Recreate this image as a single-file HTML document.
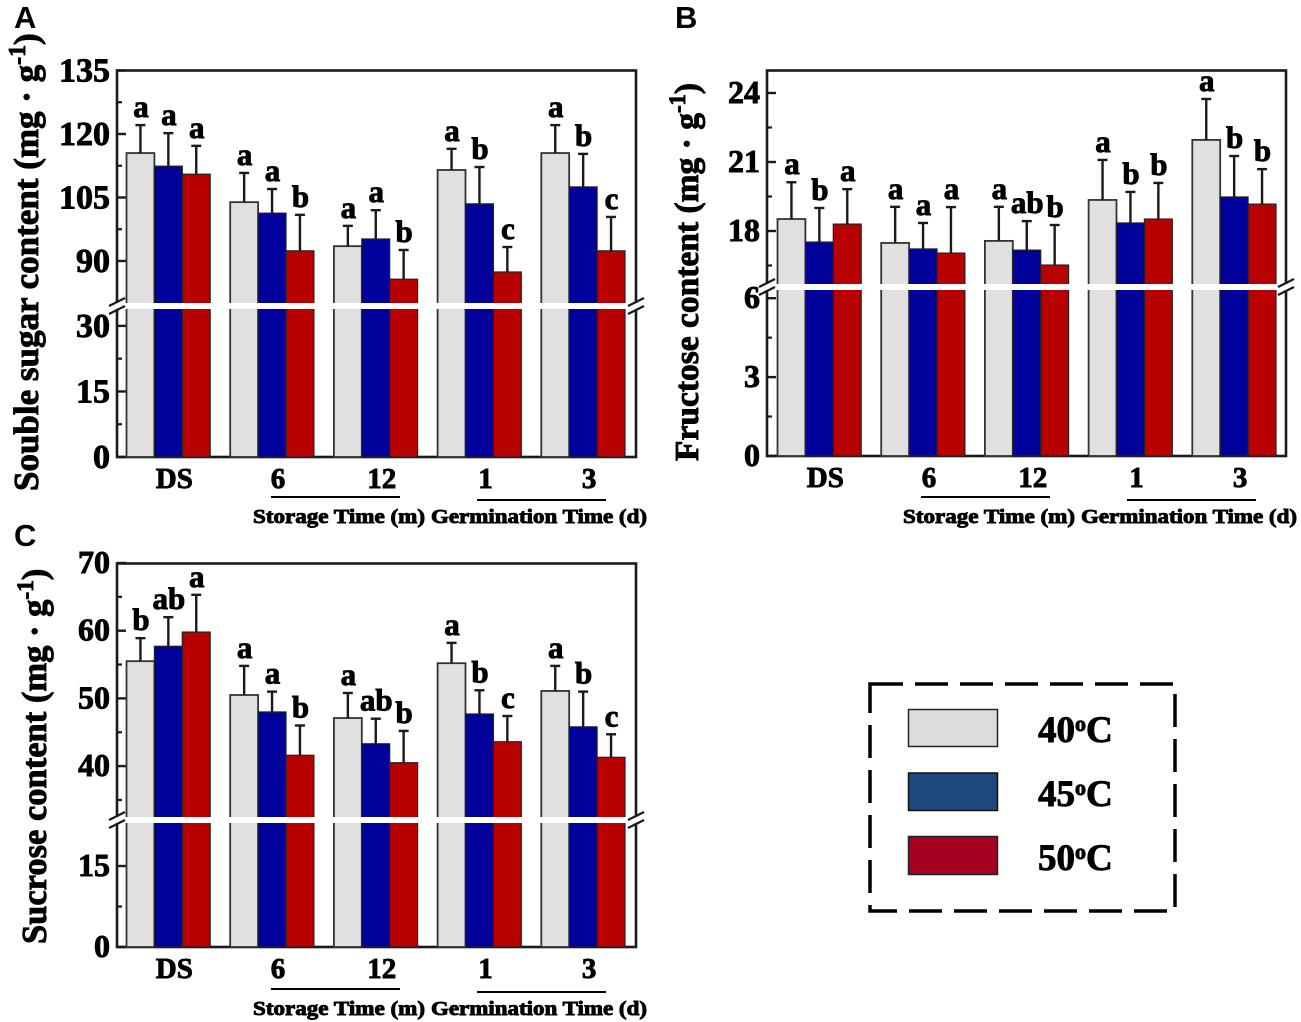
<!DOCTYPE html>
<html lang="en">
<head>
<meta charset="utf-8">
<title>Sugar content by temperature</title>
<style>
html,body{margin:0;padding:0;background:#fff;width:1301px;height:1022px;overflow:hidden}
svg{display:block;filter:blur(.35px)}
text{font-family:"Liberation Serif",serif;font-weight:bold;fill:#000;stroke:#000;stroke-width:.9px}
.panel-letter{font-family:"Liberation Sans",sans-serif;stroke:none}
</style>
</head>
<body>
<svg id="chart" xmlns="http://www.w3.org/2000/svg" width="1301" height="1022" viewBox="0 0 1301 1022">
<g>
<rect x="870" y="684" width="305" height="227" fill="none" stroke="#000" stroke-width="3.5" stroke-dasharray="33 12"/>
<rect x="908.5" y="709.5" width="89" height="37" fill="#dcdcdc" stroke="#222" stroke-width="1.5"/>
<text x="1038" y="742" font-size="37" stroke-width="1.2">40<tspan font-size="22" dy="-11">o</tspan><tspan dy="11">C</tspan></text>
<rect x="908.5" y="773" width="89" height="37.5" fill="#1f497d" stroke="#111" stroke-width="1.5"/>
<text x="1038" y="806" font-size="37" stroke-width="1.2">45<tspan font-size="22" dy="-11">o</tspan><tspan dy="11">C</tspan></text>
<rect x="908.5" y="836.5" width="89" height="38" fill="#a50021" stroke="#222" stroke-width="1.5"/>
<text x="1038" y="870" font-size="37" stroke-width="1.2">50<tspan font-size="22" dy="-11">o</tspan><tspan dy="11">C</tspan></text>
</g>
</svg>
<script>
// ---------- Shared categories ----------
const categories = ['DS', '6', '12', '1', '3'];
const seriesNames = ['40C', '45C', '50C'];

// ---------- Panel A: soluble sugar ----------
const sugar40 = [115.5, 103.9, 93.5, 111.5, 115.5];
const sugar45 = [112.4, 101.3, 95.2, 103.5, 107.5];
const sugar50 = [110.5, 92.4, 85.7, 87.4, 92.4];
const sugarErr40 = [6.6, 6.9, 4.8, 5.0, 6.6];
const sugarErr45 = [7.8, 5.7, 6.8, 8.7, 7.8];
const sugarErr50 = [6.7, 8.5, 6.9, 5.9, 8.0];
const sugarSig40 = ['a', 'a', 'a', 'a', 'a'];
const sugarSig45 = ['a', 'a', 'a', 'b', 'b'];
const sugarSig50 = ['a', 'b', 'b', 'c', 'c'];
const sugarTicksUpper = [135, 120, 105, 90];
const sugarTicksLower = [30, 15, 0];
const sugarMinorTicks = [127.5, 112.5, 97.5, 22.5, 7.5];

// ---------- Panel B: fructose ----------
const fructose40 = [18.52, 17.48, 17.57, 19.35, 21.96];
const fructose45 = [17.52, 17.22, 17.17, 18.35, 19.48];
const fructose50 = [18.30, 17.04, 16.52, 18.52, 19.17];
const fructoseErr40 = [1.6, 1.57, 1.48, 1.74, 1.78];
const fructoseErr45 = [1.48, 1.13, 1.26, 1.35, 1.78];
const fructoseErr50 = [1.52, 2.0, 1.74, 1.57, 1.52];
const fructoseSig40 = ['a', 'a', 'a', 'a', 'a'];
const fructoseSig45 = ['b', 'a', 'ab', 'b', 'b'];
const fructoseSig50 = ['a', 'a', 'b', 'b', 'b'];
const fructoseTicksUpper = [24, 21, 18];
const fructoseTicksLower = [6, 3, 0];
const fructoseMinorTicks = [22.5, 19.5, 16.5, 4.5, 1.5];

// ---------- Panel C: sucrose ----------
const sucrose40 = [55.5, 50.5, 47.1, 55.2, 51.1];
const sucrose45 = [57.7, 48.0, 43.3, 47.7, 45.8];
const sucrose50 = [59.8, 41.6, 40.5, 43.6, 41.3];
const sucroseErr40 = [3.4, 4.3, 3.7, 3.0, 3.7];
const sucroseErr45 = [4.3, 3.0, 3.7, 3.5, 5.2];
const sucroseErr50 = [5.5, 4.4, 4.7, 3.8, 3.4];
const sucroseSig40 = ['b', 'a', 'a', 'a', 'a'];
const sucroseSig45 = ['ab', 'a', 'ab', 'b', 'b'];
const sucroseSig50 = ['a', 'b', 'b', 'c', 'c'];
const sucroseTicksUpper = [70, 60, 50, 40];
const sucroseTicksLower = [15, 0];
const sucroseMinorTicks = [65, 55, 45, 35, 7.5];

// ---------- Layout (separate from data) ----------
const fills = ['#e0e0e0', '#00009b', '#b90000'];
const INK = '#1a1a1a';
const svg = document.getElementById('chart');

function node(tag, parent, attrs) {
  const el = document.createElementNS('http://www.w3.org/2000/svg', tag);
  for (const k in attrs) el.setAttribute(k, attrs[k]);
  parent.appendChild(el);
  return el;
}

function drawPanel(p) {
  const g = node('g', svg, {});
  
  

  // Broken-axis scale: upper and lower segments
  const yAxis = function (v) {
    return v >= p.breakValue
      ? p.upperY0 - (v - p.upperV0) * p.upperK
      : p.bottom - v * p.lowerK;
  };
  const xGroup = function (i) { return p.firstBarX + i * p.groupStep; };
  const xBar = function (i, s) { return xGroup(i) + s * p.barW; };

  const letter = node('text', g, { x: p.letterX, y: p.letterY, 'font-size': 31, class: 'panel-letter' });
  letter.textContent = p.id.toUpperCase();
  
  

  // Axis title
  const title = node('text', g, {
    x: p.titleX, y: p.titleY, 'font-size': p.titleSize,
    transform: 'rotate(-90 ' + p.titleX + ' ' + p.titleY + ')'
  });
  
  
  node('tspan', title, {}).textContent = p.title + ' (mg · g';
  node('tspan', title, { 'font-size': p.titleSize * 0.68, dy: -13 }).textContent = '-1';
  node('tspan', title, { dy: 13 }).textContent = ')';

  // Frame
  const frame = node('rect', g, {
    x: p.left, y: p.top, width: p.right - p.left, height: p.bottom - p.top,
    fill: 'none', stroke: INK, 'stroke-width': 2.6
  });
  
  

  // Major ticks and labels
  p.ticks.forEach(function (t) {
    const tick = node('line', g, { x1: p.left, x2: p.left + 9, y1: yAxis(t), y2: yAxis(t), stroke: INK, 'stroke-width': 2.4 });
    
    
    const lab = node('text', g, { x: p.left - 7, y: yAxis(t) + p.tickBaseline, 'font-size': p.tickSize, 'text-anchor': 'end' });
    lab.textContent = t;
    
    
  });
  p.minor.forEach(function (t) {
    const tick = node('line', g, { x1: p.left, x2: p.left + 5, y1: yAxis(t), y2: yAxis(t), stroke: INK, 'stroke-width': 2.2 });
    
    
  });

  // Bars
  p.values.forEach(function (series, s) {
    series.forEach(function (v, i) {
      const x = xBar(i, s);
      const top = yAxis(v);
      const bar = node('rect', g, {
        x: x, y: top, width: p.barW, height: p.bottom - top,
        fill: fills[s], stroke: s === 0 ? '#333' : '#222', 'stroke-width': s === 0 ? 1.8 : 1.2
      });
      
      
      const cx = x + p.barW / 2;
      const ey = yAxis(v + p.errors[s][i]);
      const stem = node('line', g, { x1: cx, x2: cx, y1: top, y2: ey, stroke: INK, 'stroke-width': 2.4 });
      
      
      const cap = node('line', g, { x1: cx - 5, x2: cx + 5, y1: ey, y2: ey, stroke: INK, 'stroke-width': 2.4 });
      
      
      const sig = node('text', g, { x: cx + 0.5, y: ey - 8, 'font-size': 31, 'text-anchor': 'middle' });
      sig.textContent = p.sig[s][i];
      
      
    });
  });

  // Axis break strip and slashes
  const strip = node('rect', g, { x: p.left - 4, y: p.breakTop, width: p.right - p.left + 8, height: p.breakBottom - p.breakTop, fill: '#fff' });
  
  
  [p.left, p.right].forEach(function (ax) {
    [-4, 4].forEach(function (off) {
      const cy = (p.breakTop + p.breakBottom) / 2 + off;
      const slash = node('line', g, { x1: ax - 8, x2: ax + 8, y1: cy + 4, y2: cy - 4, stroke: INK, 'stroke-width': 2.2 });
      
      
    });
  });

  // X labels
  categories.forEach(function (c, i) {
    const lab = node('text', g, { x: xGroup(i) + p.barW * 1.5 + 6, y: p.bottom + 31, 'font-size': 29, 'text-anchor': 'middle' });
    lab.textContent = c;
    
    
  });

  // Group rules and captions
  const ruleA = node('line', g, { x1: p.left + 154, x2: p.left + 283, y1: p.captionY - 20, y2: p.captionY - 20, stroke: '#000', 'stroke-width': 2 });
  
  
  const ruleB = node('line', g, { x1: p.left + 360, x2: p.left + 489, y1: p.captionY - 17, y2: p.captionY - 17, stroke: '#000', 'stroke-width': 2 });
  
  
  const capA = node('text', g, { x: p.left + 136, y: p.captionY + 6, 'font-size': 20, textLength: 172, lengthAdjust: 'spacingAndGlyphs' });
  capA.textContent = 'Storage Time (m)';
  
  
  const capB = node('text', g, { x: p.left + 314, y: p.captionY + 6, 'font-size': 20, textLength: 216, lengthAdjust: 'spacingAndGlyphs' });
  capB.textContent = 'Germination Time (d)';
  
  
}

drawPanel({
  id: 'a', title: 'Souble sugar content',
  values: [sugar40, sugar45, sugar50], errors: [sugarErr40, sugarErr45, sugarErr50], sig: [sugarSig40, sugarSig45, sugarSig50],
  ticks: sugarTicksUpper.concat(sugarTicksLower), minor: sugarMinorTicks,
  left: 117, right: 636, top: 70.5, bottom: 457,
  upperV0: 135, upperY0: 70.5, upperK: 4.233, lowerK: 4.37, breakValue: 60, breakTop: 303, breakBottom: 309,
  firstBarX: 126.5, groupStep: 103.7, barW: 27.9,
  letterX: 14, letterY: 28, titleX: 38, titleY: 491, titleSize: 35,
  tickSize: 34, tickBaseline: 11, captionY: 517
});
drawPanel({
  id: 'b', title: 'Fructose content',
  values: [fructose40, fructose45, fructose50], errors: [fructoseErr40, fructoseErr45, fructoseErr50], sig: [fructoseSig40, fructoseSig45, fructoseSig50],
  ticks: fructoseTicksUpper.concat(fructoseTicksLower), minor: fructoseMinorTicks,
  left: 767, right: 1286, top: 70.5, bottom: 456,
  upperV0: 18, upperY0: 231, upperK: 23, lowerK: 26.3, breakValue: 10, breakTop: 284, breakBottom: 290,
  firstBarX: 777.5, groupStep: 103.7, barW: 27.9,
  letterX: 675, letterY: 28, titleX: 698, titleY: 461, titleSize: 33.5,
  tickSize: 32, tickBaseline: 10, captionY: 517
});
drawPanel({
  id: 'c', title: 'Sucrose content',
  values: [sucrose40, sucrose45, sucrose50], errors: [sucroseErr40, sucroseErr45, sucroseErr50], sig: [sucroseSig40, sucroseSig45, sucroseSig50],
  ticks: sucroseTicksUpper.concat(sucroseTicksLower), minor: sucroseMinorTicks,
  left: 117, right: 636, top: 563.5, bottom: 947,
  upperV0: 70, upperY0: 563, upperK: 6.77, lowerK: 5.4, breakValue: 25, breakTop: 817, breakBottom: 823,
  firstBarX: 126.5, groupStep: 103.7, barW: 27.9,
  letterX: 14, letterY: 546, titleX: 46, titleY: 944, titleSize: 34.5,
  tickSize: 32, tickBaseline: 10, captionY: 1009
});
</script>
</body>
</html>
